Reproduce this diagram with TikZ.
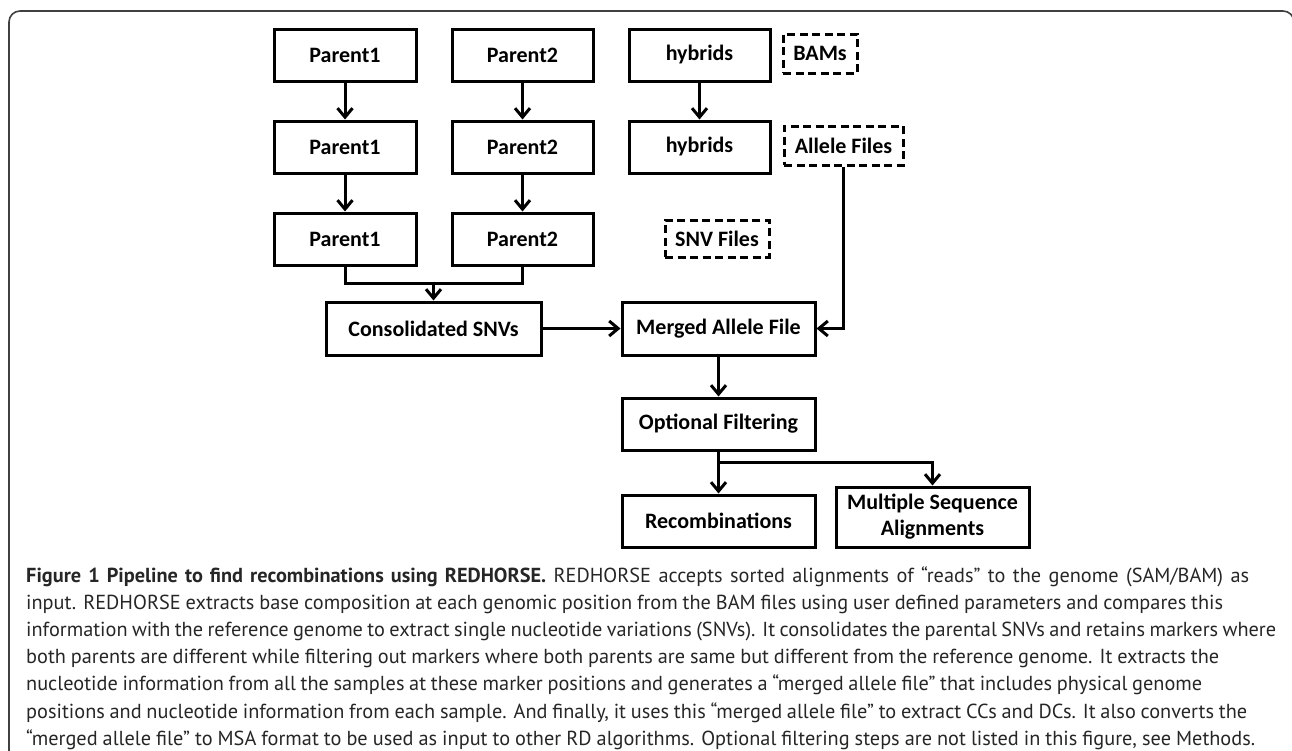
\documentclass[tikz,border=0pt]{standalone}
\usepackage{fontspec}
\setmainfont{Carlito}
\newfontfamily\capfont{PT Sans}
\usetikzlibrary{arrows.meta}
\tikzset{
  box/.style={draw, line width=3pt, minimum height=52pt, inner sep=0pt, align=center,
              font=\fontsize{22}{26}\selectfont\bfseries},
  dbox/.style={draw, line width=3pt, dash pattern=on 8pt off 4.5pt, inner sep=0pt,
              font=\fontsize{22}{26}\selectfont\bfseries},
  conn/.style={line width=3pt},
  arr/.style={line width=3pt, -{Straight Barb[length=9pt,width=15pt]}},
  capline/.style={anchor=base west, inner sep=0pt, text=black!85,
              font=\capfont\fontsize{20.3}{27}\selectfont}
}
\newcommand{\capfit}[2]{\makebox[#1pt][s]{#2}}
\begin{document}
\begin{tikzpicture}[x=1pt,y=-1pt]
\useasboundingbox (0,0) rectangle (1292,750);
\begin{scope}
\clip (0,0) rectangle (1292,750);
\draw[line width=1.6pt, black!75, rounded corners=11pt] (9,11) rectangle (1294,800);
\end{scope}
% row 1
\node[box, minimum width=142pt] (p1a) at (345,55) {Parent1};
\node[box, minimum width=141pt] (p2a) at (522.5,55) {Parent2};
\node[box, minimum width=141pt] (ha) at (699.5,55) {hybrids};
\node[dbox, minimum width=74pt, minimum height=39pt] (bams) at (820,53.5) {BAMs};
% row 2
\node[box, minimum width=142pt] (p1b) at (345,147) {Parent1};
\node[box, minimum width=141pt] (p2b) at (522.5,147) {Parent2};
\node[box, minimum width=141pt] (hb) at (699.5,147) {hybrids};
\node[dbox, minimum width=119pt, minimum height=39pt] (allele) at (843.5,145.5) {Allele Files};
% row 3
\node[box, minimum width=142pt] (p1c) at (345,239) {Parent1};
\node[box, minimum width=141pt] (p2c) at (522.5,239) {Parent2};
\node[dbox, minimum width=104pt, minimum height=37pt] (snv) at (717,238.5) {SNV Files};
% lower
\node[box, minimum width=215pt, minimum height=53pt] (cons) at (433.5,328.5) {Consolidated SNVs};
\node[box, minimum width=193pt, minimum height=53pt] (merged) at (718.5,328.5) {Merged Allele File};
\node[box, minimum width=193pt] (opt) at (718.5,424) {Optional Filtering};
\node[box, minimum width=193pt] (rec) at (718.5,521) {Recombinations};
\node[box, minimum width=193pt, minimum height=60pt] (msa) at (932.5,517) {Multiple Sequence\\Alignments};
% connectors
\draw[arr] (p1a) -- (p1b);
\draw[arr] (p1b) -- (p1c);
\draw[arr] (p2a) -- (p2b);
\draw[arr] (p2b) -- (p2c);
\draw[arr] (ha) -- (hb);
\coordinate (mj) at (433.5,283);
\draw[conn] (p1c.south) |- (mj) -| (p2c.south);
\draw[arr] (mj) -- (cons.north);
\draw[arr] (cons.east) -- (merged.west);
\draw[arr] (allele.south) |- (merged.east);
\draw[arr] (merged) -- (opt);
\coordinate (bj) at (718.5,462);
\draw[conn] (opt.south) -- (bj);
\draw[arr] (bj) -- (rec.north);
\draw[arr] (bj) -| (msa.north);
% caption
\node[capline] (c1) at (26,582) {\capfit{1223}{\textbf{Figure 1 Pipeline to find recombinations using REDHORSE.} REDHORSE accepts sorted alignments of “reads” to the genome (SAM/BAM) as}};
\node[capline] (c2) at (26,609.2) {\capfit{1197}{input. REDHORSE extracts base composition at each genomic position from the BAM files using user defined parameters and compares this}};
\node[capline] (c3) at (26,636.4) {\capfit{1250}{information with the reference genome to extract single nucleotide variations (SNVs). It consolidates the parental SNVs and retains markers where}};
\node[capline] (c4) at (26,663.6) {\capfit{1193}{both parents are different while filtering out markers where both parents are same but different from the reference genome. It extracts the}};
\node[capline] (c5) at (26,690.8) {\capfit{1176}{nucleotide information from all the samples at these marker positions and generates a “merged allele file” that includes physical genome}};
\node[capline] (c6) at (26,718) {\capfit{1221}{positions and nucleotide information from each sample. And finally, it uses this “merged allele file” to extract CCs and DCs. It also converts the}};
\node[capline] (c7) at (26,745.2) {\capfit{1229}{“merged allele file” to MSA format to be used as input to other RD algorithms. Optional filtering steps are not listed in this figure, see Methods.}};
\end{tikzpicture}
\end{document}
